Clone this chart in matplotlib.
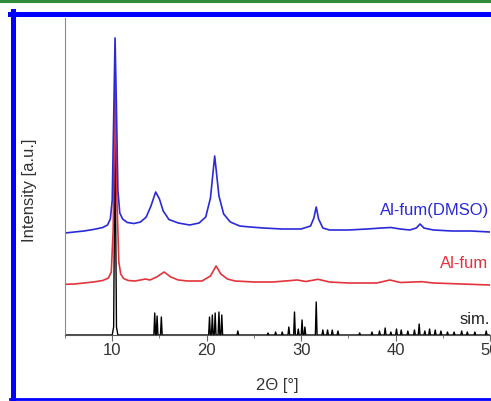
import matplotlib
matplotlib.use("Agg")
import matplotlib.pyplot as plt
from matplotlib.lines import Line2D

plt.rcParams['font.family'] = ['Liberation Sans', 'DejaVu Sans']

# Al-fum(DMSO) pattern, traced (2theta, intensity a.u.)
dmso_x = [5, 6, 7, 8, 9, 9.5, 9.8, 10.0, 10.15, 10.3, 10.45, 10.6, 10.8, 11.1, 11.6,
          12.3, 13.0, 13.6, 14.1, 14.6, 15.0, 15.4, 16.0, 17.0, 18.2, 19.2, 19.9,
          20.4, 20.85, 21.3, 21.8, 22.5, 23.5, 24.6, 26, 28, 30, 31.0, 31.35, 31.6,
          31.85, 32.3, 33, 35, 37, 38.5, 39.5, 40.5, 41.5, 42.2, 42.6, 43.0, 44, 46,
          48, 50]
dmso_y = [102, 103, 104, 105.5, 107.5, 110, 116, 135, 215, 297, 225, 145, 122, 116,
          112.5, 111.5, 113, 118, 129, 143, 136, 124, 115.5, 112, 110, 112, 118, 137,
          179, 139, 121, 113, 109, 108, 107, 106, 106, 109, 117, 128, 116, 107, 105,
          105, 106, 107, 107.5, 106, 105, 107, 111, 107, 105, 104, 104, 103]

# Al-fum pattern
fum_x = [5, 6, 7, 8, 9, 9.6, 9.9, 10.1, 10.3, 10.5, 10.7, 10.9, 11.2, 11.7, 12.4, 13.0,
         13.5, 14.0, 14.7, 15.5, 16.2, 17, 18, 19.5, 20.4, 21.0, 21.5, 22.2, 23, 25,
         27, 29.6, 30.5, 31.8, 33, 35, 38, 39.4, 40.5, 42.8, 44, 47, 50]
fum_y = [50.7, 51, 52, 53, 54.5, 57, 63, 105, 250, 135, 73, 61, 56.5, 54.5, 54, 55, 56,
         55, 58, 63, 58, 55, 54, 54, 59, 69, 61, 56, 54, 53, 53, 55, 53.5, 55.7, 53,
         52, 52, 55, 52.5, 53.3, 52, 51, 50]

# simulated pattern: peak positions and heights
sim_pos = [10.3, 14.5, 14.75, 15.2, 20.3, 20.6, 20.9, 21.3, 21.6, 23.3, 26.5, 27.3,
           28.0, 28.7, 29.3, 29.7, 30.1, 30.4, 31.6, 32.3, 32.8, 33.3, 33.9, 36.2,
           37.5, 38.3, 38.9, 39.5, 40.1, 40.6, 41.3, 42.0, 42.5, 43.1, 43.6, 44.2,
           44.8, 45.5, 46.2, 47.0, 47.6, 48.4, 49.6]
sim_h = [198, 22, 19, 18, 18, 20, 22, 23, 20, 4, 2, 3, 3, 8, 23, 6, 15, 8, 33, 5, 5,
         5, 4, 2, 3, 4, 7, 3, 6, 5, 4, 5, 11, 4, 6, 5, 4, 3, 3, 4, 3, 3, 4]

xticks = [10, 20, 30, 40, 50]

# build stick profile for the simulated pattern
sim_x = [5.0]
sim_y = [0.0]
for p, h in zip(sim_pos, sim_h):
    if h > 100:
        sim_x += [p - 0.3, p - 0.15, p, p + 0.15, p + 0.3]
        sim_y += [0, 8, h, 8, 0]
    else:
        sim_x += [p - 0.09, p, p + 0.09]
        sim_y += [0, h, 0]
sim_x.append(50.0)
sim_y.append(0.0)

fig = plt.figure(figsize=(4.91, 4.01), dpi=100)
ax = fig.add_axes([65 / 491, 66 / 401, 425 / 491, 317 / 401])

ax.plot(sim_x, sim_y, color='black', lw=1.0)
ax.plot(fum_x, fum_y, color='#e3343c', lw=1.2)
ax.plot(dmso_x, dmso_y, color='#2a2ad8', lw=1.2)

ax.text(49.9, 124.5, 'Al-fum(DMSO)', color='#2a2ad8', fontsize=12, ha='right', va='center')
ax.text(49.8, 72, 'Al-fum', color='#e3343c', fontsize=12, ha='right', va='center')
ax.text(50.0, 15, 'sim.', color='#222222', fontsize=12, ha='right', va='center')

ax.set_xlim(5, 50)
ax.set_ylim(0, 317)
ax.set_xticks(xticks)
ax.set_xticks([5, 15, 25, 35, 45], minor=True)
ax.set_yticks([])
ax.tick_params(axis='x', which='major', direction='out', length=4, color='#666666',
               labelsize=12, labelcolor='#333333', pad=2)
ax.tick_params(axis='x', which='minor', direction='out', length=2.5, color='#666666')
for s in ['top', 'right']:
    ax.spines[s].set_visible(False)
ax.spines['left'].set_color('#8a8a8a')
ax.spines['bottom'].set_color('#555555')

ax.set_xlabel('2\u0398 [\u00b0]', fontsize=12, color='#333333', labelpad=14)
ax.set_ylabel('Intensity [a.u.]', fontsize=12, color='#333333')
ax.yaxis.set_label_coords(-0.066, 0.457)

# figure frame
fig.add_artist(Line2D([0, 1], [1 - 1 / 401, 1 - 1 / 401], color='#2e8b3a', lw=2.2,
                      transform=fig.transFigure))
fig.add_artist(Line2D([12.5 / 491, 12.5 / 491], [2 / 401, 1 - 11 / 401], color='#0000ff',
                      lw=3.6, transform=fig.transFigure))
fig.add_artist(Line2D([10 / 491, 1], [1 - 13.5 / 401, 1 - 13.5 / 401], color='#0000ff',
                      lw=3.6, transform=fig.transFigure))
fig.add_artist(Line2D([10 / 491, 1], [2 / 401, 2 / 401], color='#0000ff',
                      lw=2.0, transform=fig.transFigure))

fig.savefig('out.png', dpi=100)
